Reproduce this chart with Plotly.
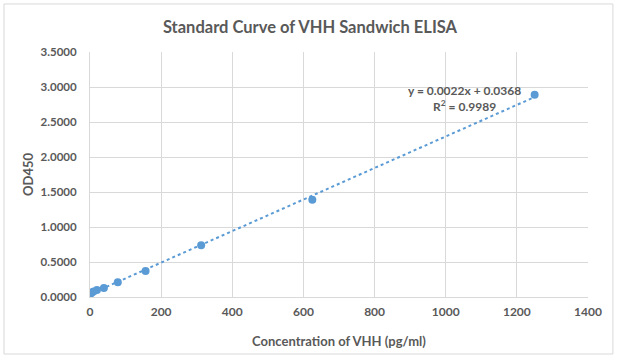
import numpy as np
import plotly.graph_objects as go

conc = [0, 2.44, 4.88, 9.77, 19.53, 39.06, 78.13, 156.25, 312.5, 625, 1250]
od450 = [0.045, 0.055, 0.065, 0.08, 0.10, 0.13, 0.21, 0.37, 0.74, 1.39, 2.89]
x_ticks = [0, 200, 400, 600, 800, 1000, 1200, 1400]
y_ticks = [0, 0.5, 1.0, 1.5, 2.0, 2.5, 3.0, 3.5]
eq_text = "y = 0.0022x + 0.0368<br>R<sup>2</sup> = 0.9989"

slope, intercept = np.polyfit(conc, od450, 1)
tx = [min(conc), max(conc)]
ty = [slope * v + intercept for v in tx]

font_fam = "Lato, 'Open Sans', sans-serif"
grey = "#595959"
blue = "#5b9bd5"

fig = go.Figure()
fig.add_trace(go.Scatter(x=tx, y=ty, mode="lines",
                         line=dict(color=blue, width=2, dash="dot"),
                         hoverinfo="skip", showlegend=False))
fig.add_trace(go.Scatter(x=conc, y=od450, mode="markers",
                         marker=dict(color=blue, size=8),
                         showlegend=False))

fig.add_annotation(x=1054, y=2.84, xref="x", yref="y", text=eq_text,
                   showarrow=False, align="center",
                   font=dict(family=font_fam, size=12, color=grey, weight="bold"))

fig.add_shape(type="rect", xref="paper", yref="paper",
              x0=-0.1727, x1=1.050, y0=-0.2327, y1=1.196,
              line=dict(color="#d9d9d9", width=1), layer="below")

fig.update_layout(
    width=620, height=364,
    margin=dict(l=90, r=32, t=52, b=67),
    paper_bgcolor="white", plot_bgcolor="white",
    title=dict(text="Standard Curve of VHH Sandwich ELISA", x=0.5, xref="container",
               xanchor="center", y=0.925, yref="container", yanchor="middle",
               font=dict(family=font_fam, size=16.5, color=grey, weight="bold")),
    font=dict(family=font_fam, color=grey),
    xaxis=dict(range=[0, 1400], tickvals=x_ticks, showgrid=True,
               gridcolor="#d9d9d9", gridwidth=1, zeroline=False,
               showline=True, linecolor="#d9d9d9",
               tickfont=dict(size=12, color=grey, weight="bold"),
               ticks="outside", ticklen=4, tickcolor="rgba(0,0,0,0)",
               title=dict(text="Concentration of VHH (pg/ml)", standoff=18,
                          font=dict(size=13, color=grey, weight="bold"))),
    yaxis=dict(range=[0, 3.5], tickvals=y_ticks, tickformat=".4f",
               showgrid=True, gridcolor="#d9d9d9", gridwidth=1,
               zeroline=False, showline=True, linecolor="#d9d9d9",
               tickfont=dict(size=11.5, color=grey, weight="bold"),
               ticks="outside", ticklen=10, tickcolor="rgba(0,0,0,0)",
               title=dict(text="OD450", standoff=4,
                          font=dict(size=13, color=grey, weight="bold"))),
)

fig.write_html("out.html", config={"displayModeBar": False},
               post_script="document.body.style.margin='0';")
